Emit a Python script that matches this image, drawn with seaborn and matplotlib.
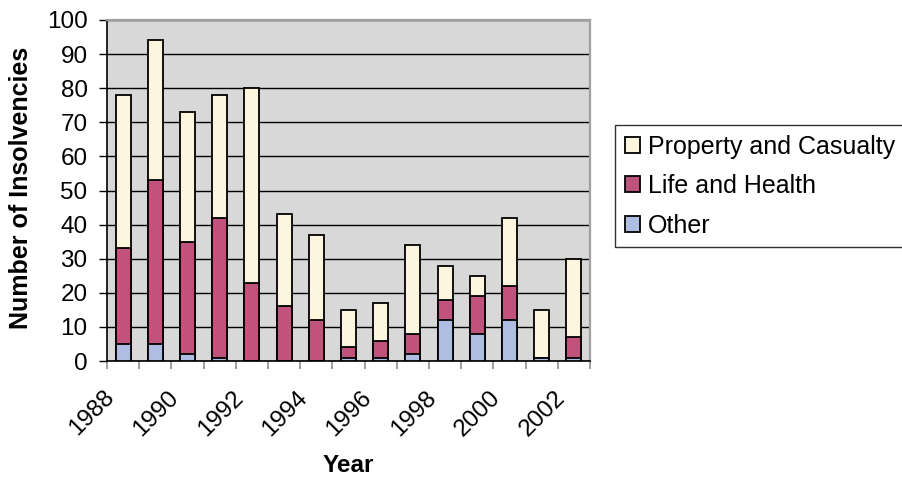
import numpy as np
import pandas as pd
import matplotlib
matplotlib.use("Agg")
import matplotlib.pyplot as plt
from matplotlib.patches import Patch
from matplotlib.transforms import ScaledTranslation
import seaborn as sns

# Insurer insolvencies by line of business, 1988-2002
years = [1988, 1989, 1990, 1991, 1992, 1993, 1994, 1995,
         1996, 1997, 1998, 1999, 2000, 2001, 2002]
other = [5, 5, 2, 1, 0, 0, 0, 1, 1, 2, 12, 8, 12, 1, 1]
life_health = [28, 48, 33, 41, 23, 16, 12, 3, 5, 6, 6, 11, 10, 0, 6]
property_casualty = [45, 41, 38, 36, 57, 27, 25, 11, 11, 26, 10, 6, 20, 14, 23]
year_ticks = [1988, 1990, 1992, 1994, 1996, 1998, 2000, 2002]

series_names = ["Property and Casualty", "Life and Health", "Other"]
colors = {"Property and Casualty": "#FDF6DF",
          "Life and Health": "#C1527B",
          "Other": "#AFBDE3"}

df = pd.DataFrame({"Year": [str(y) for y in years],
                   "Other": other,
                   "Life and Health": life_health,
                   "Property and Casualty": property_casualty})
# cumulative heights, drawn back to front so the stacks show through
df["top_other"] = df["Other"]
df["top_life"] = df["Other"] + df["Life and Health"]
df["top_pc"] = df["top_life"] + df["Property and Casualty"]

sns.set_theme(style="white")
plt.rcParams["font.family"] = ["Liberation Sans", "DejaVu Sans"]
plt.rcParams["text.color"] = "black"
plt.rcParams["axes.labelcolor"] = "black"
plt.rcParams["xtick.color"] = "black"
plt.rcParams["ytick.color"] = "black"

fig = plt.figure(figsize=(9.02, 4.80), dpi=100)
ax = fig.add_axes([107 / 902, 1 - 361 / 480, (590 - 107) / 902, (361 - 20) / 480])
ax.set_facecolor("#D8D8D8")

for col, name in [("top_pc", "Property and Casualty"),
                  ("top_life", "Life and Health"),
                  ("top_other", "Other")]:
    sns.barplot(data=df, x="Year", y=col, color=colors[name], width=0.46,
                edgecolor="black", linewidth=1.3, saturation=1, ax=ax, zorder=3)

ax.set_ylim(0, 100)
ax.set_xlim(-0.5, len(years) - 0.5)
ax.set_yticks(np.arange(0, 101, 10))
ax.yaxis.grid(True, color="black", linewidth=1.0, zorder=0)
ax.set_axisbelow(True)
ax.tick_params(axis="y", which="major", left=True, length=6, width=1,
               color="black", labelcolor="black", pad=8, labelsize=17.5)

# category labels every other year, tick marks between categories
pos = [years.index(y) for y in year_ticks]
ax.set_xticks(pos)
ax.set_xticklabels([str(y) for y in year_ticks], rotation=45,
                   ha="right", va="top", rotation_mode="anchor", fontsize=17.5,
                   color="black")
ax.tick_params(axis="x", which="major", length=0, pad=14)
shift = ScaledTranslation(-20 / 100, -6 / 100, fig.dpi_scale_trans)
for lbl in ax.get_xticklabels():
    lbl.set_transform(lbl.get_transform() + shift)
ax.set_xticks(np.arange(-0.5, len(years), 1.0), minor=True)
ax.tick_params(axis="x", which="minor", bottom=True, length=6, width=1.2,
               color="#909090")

for side in ["top", "right"]:
    ax.spines[side].set_color("#A0A0A0")
    ax.spines[side].set_linewidth(1.6)
for side in ["left", "bottom"]:
    ax.spines[side].set_color("black")
    ax.spines[side].set_linewidth(1.2)

ax.set_xlabel("Year", fontsize=17.5, fontweight="bold", color="black")
ax.xaxis.set_label_coords(0.5, -(465 - 361) / 341)
ax.xaxis.label.set_va("center")
ax.set_ylabel("Number of Insolvencies", fontsize=18, fontweight="bold",
              color="black")
ax.yaxis.set_label_coords(-(107 - 21) / 483, 173.5 / 341)
ax.yaxis.label.set_va("center")

handles = [Patch(facecolor=colors[n], edgecolor="black", linewidth=1.3) for n in series_names]
leg = fig.legend(handles, series_names, loc="upper left",
                 bbox_to_anchor=(615 / 902, 1 - 125 / 480), fontsize=18,
                 frameon=True, fancybox=False, handlelength=0.6, handleheight=0.6,
                 handletextpad=0.35, labelspacing=0.62, borderpad=0.38,
                 borderaxespad=0)
leg.get_frame().set_edgecolor("black")
leg.get_frame().set_linewidth(1.0)
for t in leg.get_texts():
    t.set_color("black")

fig.savefig("out.png", dpi=100)
